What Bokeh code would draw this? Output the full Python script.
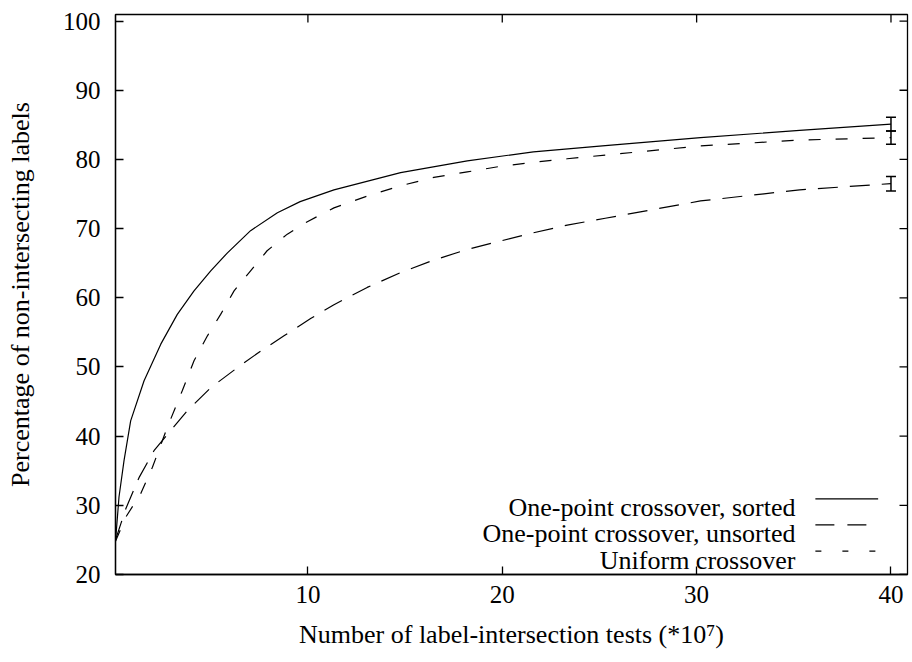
from bokeh.plotting import figure
from bokeh.models import (ColumnDataSource, Range1d, FixedTicker,
                          Whisker, TeeHead, Label)
from bokeh.embed import file_html
from bokeh.resources import INLINE

# Number of label-intersection tests (*10^7) vs. percentage of non-intersecting labels
sorted_x = [0.1, 0.28, 0.54, 0.88, 1.57, 2.43, 3.28, 4.14, 5.0, 5.86, 7.05, 8.43,
            9.6, 11.34, 14.77, 18.2, 21.6, 25.3, 30.2, 35.3, 40.0]
sorted_y = [24.8, 31.2, 36.5, 42.2, 48.0, 53.3, 57.6, 61.0, 63.9, 66.5, 69.7, 72.3,
            73.9, 75.6, 78.1, 79.8, 81.1, 82.0, 83.15, 84.2, 85.1]

unsorted_x = [0.1, 0.63, 1.31, 2.08, 2.85, 3.8, 5.0, 6.37, 7.57, 8.77, 10.14, 11.34,
              13.05, 14.77, 16.48, 18.2, 19.9, 21.6, 23.34, 25.3, 30.2, 35.3, 40.0]
unsorted_y = [25.0, 29.5, 34.0, 37.9, 40.5, 43.7, 47.0, 49.9, 52.3, 54.5, 57.0, 59.0,
              61.5, 63.65, 65.45, 67.0, 68.2, 69.4, 70.5, 71.5, 74.0, 75.6, 76.5]

uniform_x = [0.1, 0.63, 1.4, 2.0, 2.77, 3.54, 4.14, 4.83, 5.51, 6.2, 7.05, 7.9, 8.94,
             9.97, 11.34, 13.05, 14.77, 16.48, 18.2, 19.9, 21.6, 23.34, 25.56, 30.2,
             35.3, 40.0]
uniform_y = [24.8, 28.3, 31.7, 35.5, 41.3, 46.6, 50.9, 54.5, 57.6, 61.0, 63.9, 66.8,
             69.2, 71.0, 73.0, 74.7, 76.2, 77.4, 78.2, 79.0, 79.6, 80.1, 80.7, 81.95,
             82.8, 83.15]

# Final-point error bars
err_x = [40.0, 40.0, 40.0]
err_center = [85.1, 76.5, 83.15]
err_half = [1.0, 1.05, 0.95]

series_names = ["One-point crossover, sorted",
                "One-point crossover, unsorted",
                "Uniform crossover"]
x_ticks = [10, 20, 30, 40]
y_ticks = [20, 30, 40, 50, 60, 70, 80, 90, 100]

X0, X1 = 0.1, 40.85
Y0, Y1 = 20, 100.95
FONT = "Liberation Serif"
LW = 1.3
curve_dashes = ["solid", "20 12", "12 15"]
key_dashes = ["solid", "19 13", "6 21"]

p = figure(width=912, height=662, output_backend="svg", toolbar_location=None,
           x_range=Range1d(X0, X1), y_range=Range1d(Y0, Y1),
           min_border_left=115, min_border_right=5, min_border_top=14,
           min_border_bottom=88)
p.outline_line_color = "black"
p.outline_line_width = LW
p.xgrid.visible = False
p.ygrid.visible = False

for ax, ticks in ((p.xaxis[0], x_ticks), (p.yaxis[0], y_ticks)):
    ax.ticker = FixedTicker(ticks=ticks)
    ax.major_tick_in = 8
    ax.major_tick_out = 0
    ax.minor_tick_line_color = None
    ax.axis_line_color = "black"
    ax.axis_line_width = LW
    ax.major_tick_line_width = LW
    ax.major_label_text_font = FONT
    ax.major_label_text_font_size = "25px"
    ax.major_label_text_color = "black"
    ax.axis_label_text_font = FONT
    ax.axis_label_text_font_size = "26px"
    ax.axis_label_text_font_style = "normal"
    ax.axis_label_text_color = "black"

p.xaxis[0].axis_label = "Number of label-intersection tests (*10\u2077)"
p.xaxis[0].major_label_standoff = 11
p.xaxis[0].axis_label_standoff = 14
p.yaxis[0].axis_label = "Percentage of non-intersecting labels"
p.yaxis[0].major_label_standoff = 15
p.yaxis[0].axis_label_standoff = 25

# Mirrored inward ticks on the top and right edges (8 px long)
tick_dy = 8 * (Y1 - Y0) / 560
tick_dx = 8 * (X1 - X0) / 792
p.segment(x0=x_ticks, y0=[Y1] * len(x_ticks), x1=x_ticks,
          y1=[Y1 - tick_dy] * len(x_ticks), line_color="black", line_width=LW)
p.segment(x0=[X1] * len(y_ticks), y0=y_ticks, x1=[X1 - tick_dx] * len(y_ticks),
          y1=y_ticks, line_color="black", line_width=LW)

curves = [(sorted_x, sorted_y), (unsorted_x, unsorted_y), (uniform_x, uniform_y)]
for (xs, ys), dash in zip(curves, curve_dashes):
    p.line(xs, ys, line_color="black", line_width=1.2, line_dash=dash)

err_src = ColumnDataSource(dict(
    x=err_x,
    upper=[c + h for c, h in zip(err_center, err_half)],
    lower=[c - h for c, h in zip(err_center, err_half)],
))
p.add_layout(Whisker(source=err_src, base="x", upper="upper", lower="lower",
                     line_color="black", line_width=1.5,
                     upper_head=TeeHead(size=10, line_color="black", line_width=1.5),
                     lower_head=TeeHead(size=10, line_color="black", line_width=1.5)))

# Key: label on the left, line sample on the right
key_baselines = [67.3, 40.7, 14.0]      # frame-relative screen px
sample_y = [30.94, 27.18, 23.37]        # data units
for name, dash, ty, sy in zip(series_names, key_dashes, key_baselines, sample_y):
    p.add_layout(Label(x=680, y=ty, x_units="screen", y_units="screen", text=name,
                       text_font=FONT, text_font_size="26px", text_color="black",
                       text_align="right", text_baseline="alphabetic"))
    p.line([36.11, 39.34], [sy, sy], line_color="black", line_width=1.2,
           line_dash=dash)

open("out.html", "w").write(file_html(p, INLINE))
